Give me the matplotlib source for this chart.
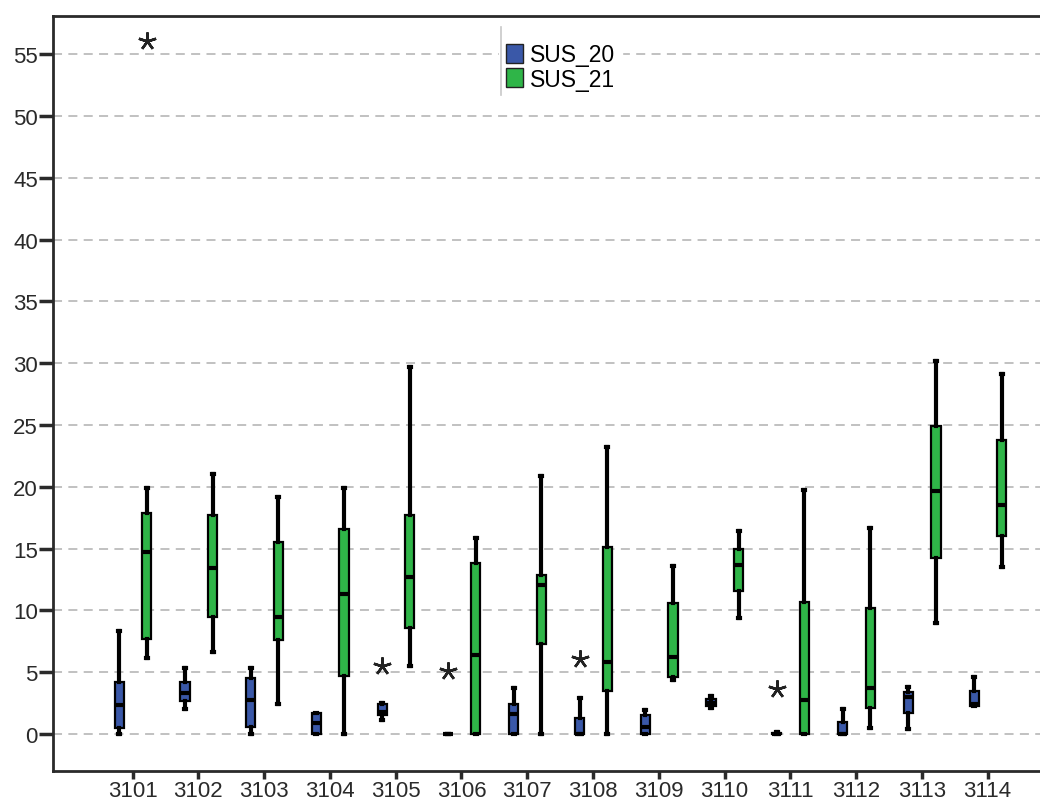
import matplotlib
matplotlib.use("Agg")
import matplotlib.pyplot as plt
from matplotlib.patches import Patch

plt.rcParams['font.family'] = ['Liberation Sans', 'DejaVu Sans']

groups = ["3101", "3102", "3103", "3104", "3105", "3106", "3107",
          "3108", "3109", "3110", "3111", "3112", "3113", "3114"]

# SUS_20 five-number summaries
sus20_min = [0.0, 2.0, 0.0, 0.0, 1.1, 0.0, 0.0, 0.0, 0.0, 2.1, 0.0, 0.0, 0.4, 2.3]
sus20_q1  = [0.5, 2.65, 0.6, 0.0, 1.5, 0.0, 0.0, 0.0, 0.0, 2.3, 0.0, 0.0, 1.7, 2.3]
sus20_med = [2.35, 3.3, 2.75, 0.85, 1.8, 0.0, 1.65, 0.0, 0.55, 2.5, 0.0, 0.0, 3.0, 2.4]
sus20_q3  = [4.2, 4.2, 4.5, 1.7, 2.4, 0.0, 2.45, 1.3, 1.5, 2.8, 0.1, 1.0, 3.4, 3.5]
sus20_max = [8.35, 5.3, 5.3, 1.7, 2.5, 0.0, 3.7, 2.9, 1.9, 3.1, 0.15, 2.0, 3.8, 4.6]
sus20_out = [[], [], [], [], [5.5], [5.1], [], [6.1], [], [], [3.6], [], [], []]

# SUS_21 five-number summaries
sus21_min = [6.15, 6.6, 2.4, 0.0, 5.5, 0.0, 0.0, 0.0, 4.4, 9.4, 0.0, 0.45, 8.95, 13.5]
sus21_q1  = [7.7, 9.5, 7.6, 4.65, 8.55, 0.0, 7.3, 3.5, 4.6, 11.6, 0.0, 2.1, 14.25, 16.0]
sus21_med = [14.75, 13.4, 9.45, 11.3, 12.7, 6.4, 12.05, 5.85, 6.25, 13.7, 2.75, 3.7, 19.7, 18.55]
sus21_q3  = [17.9, 17.7, 15.5, 16.6, 17.75, 13.8, 12.9, 15.1, 10.6, 15.0, 10.65, 10.2, 24.9, 23.8]
sus21_max = [19.9, 21.0, 19.2, 19.9, 29.7, 15.85, 20.9, 23.2, 13.6, 16.4, 19.75, 16.7, 30.2, 29.15]
sus21_out = [[56.1], [], [], [], [], [], [], [], [], [], [], [], [], []]

blue = "#3a58a8"
green = "#2fb548"


def make_stats(mins, q1s, meds, q3s, maxs, outs):
    stats = []
    for lo, a, m, b, hi, fl in zip(mins, q1s, meds, q3s, maxs, outs):
        stats.append({"whislo": lo, "q1": a, "med": m, "q3": b,
                      "whishi": hi, "fliers": fl})
    return stats


fig = plt.figure(figsize=(10.4, 8.03), dpi=100)
ax = fig.add_axes([0.051, 0.0386, 0.96, 0.9402])

for y in range(0, 60, 5):
    ax.axhline(y, color="#bcbcbc", lw=1.3, ls=(0, (5, 3.5)), zorder=0)

pos = list(range(len(groups)))
series = [
    (make_stats(sus20_min, sus20_q1, sus20_med, sus20_q3, sus20_max, sus20_out), -0.205, blue),
    (make_stats(sus21_min, sus21_q1, sus21_med, sus21_q3, sus21_max, sus21_out), 0.215, green),
]
for stats, off, col in series:
    ax.bxp(stats, positions=[p + off for p in pos], widths=0.14,
           capwidths=0.03, patch_artist=True, manage_ticks=False,
           boxprops=dict(facecolor=col, edgecolor="black", lw=1.6),
           whiskerprops=dict(color="black", lw=3),
           capprops=dict(color="black", lw=3),
           medianprops=dict(color="black", lw=3),
           flierprops=dict(marker=(5, 2, 0), markersize=13,
                           markeredgecolor="#222222", markeredgewidth=1.8))

ax.set_xlim(-1.21, 13.97)
ax.set_ylim(-3.0, 58.1)
ax.set_xticks(pos)
ax.set_xticklabels(groups)
ax.set_yticks(range(0, 60, 5))

for side in ["left", "bottom", "top"]:
    ax.spines[side].set_color("#2a2a2a")
    ax.spines[side].set_linewidth(2)
ax.spines["right"].set_visible(False)
ax.tick_params(axis="both", labelsize=16, colors="#2a2a2a", width=2.5)
ax.tick_params(axis="y", length=10, pad=1)
ax.tick_params(axis="x", length=6, pad=0.5)

handles = [Patch(facecolor=blue, edgecolor="#222222", label="SUS_20"),
           Patch(facecolor=green, edgecolor="#222222", label="SUS_21")]
leg = ax.legend(handles=handles, loc="upper left", bbox_to_anchor=(0.435, 0.988),
                fontsize=16.5, frameon=True, fancybox=False, edgecolor="white",
                facecolor="white", framealpha=1, handlelength=0.75, handleheight=0.85,
                handletextpad=0.3, labelspacing=0.05, borderpad=0.3)
ax.plot([0.449, 0.449], [0.895, 0.985], transform=ax.transAxes,
        color="#c8c8c8", lw=1.2, zorder=6)

fig.savefig("out.png", dpi=100)
